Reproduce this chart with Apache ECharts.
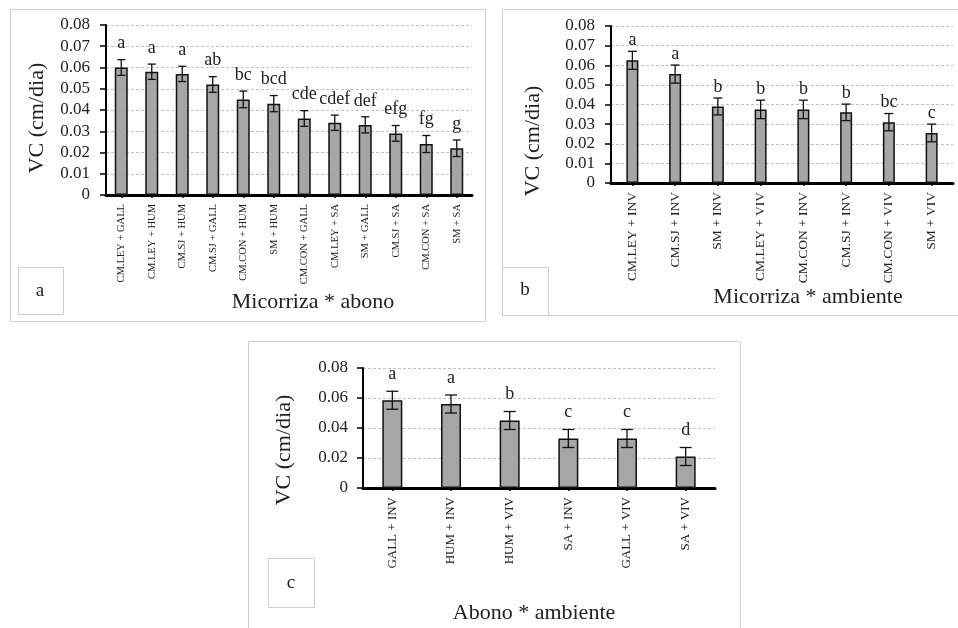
<!DOCTYPE html>
<html>
<head>
<meta charset="utf-8">
<script src="https://cdn.jsdelivr.net/npm/echarts@6/dist/echarts.min.js"></script>
<style>html,body{margin:0;padding:0;background:#fff}#c{width:958px;height:628px}</style>
</head>
<body>
<div id="c"></div>
<script>
// Panel a: Micorriza * abono
const catsA = ['CM.LEY + GALL','CM.LEY + HUM','CM.SJ + HUM','CM.SJ + GALL','CM.CON + HUM','SM + HUM','CM.CON + GALL','CM.LEY + SA','SM + GALL','CM.SJ + SA','CM.CON + SA','SM + SA'];
const valsA = [0.060,0.058,0.057,0.052,0.045,0.043,0.036,0.034,0.033,0.029,0.024,0.022];
const errA  = [0.0037,0.0036,0.0036,0.0037,0.0039,0.0038,0.0037,0.0036,0.0038,0.0037,0.0040,0.0039];
const letA  = ['a','a','a','ab','bc','bcd','cde','cdef','def','efg','fg','g'];
// Panel b: Micorriza * ambiente
const catsB = ['CM.LEY + INV','CM.SJ + INV','SM + INV','CM.LEY + VIV','CM.CON + INV','CM.SJ + INV','CM.CON + VIV','SM + VIV'];
const valsB = [0.0625,0.0555,0.039,0.0375,0.0375,0.036,0.031,0.0255];
const errB  = [0.0046,0.0046,0.0043,0.0047,0.0047,0.0042,0.0044,0.0045];
const letB  = ['a','a','b','b','b','b','bc','c'];
// Panel c: Abono * ambiente
const catsC = ['GALL + INV','HUM + INV','HUM + VIV','SA + INV','GALL + VIV','SA + VIV'];
const valsC = [0.0585,0.056,0.045,0.033,0.033,0.021];
const errC  = [0.006,0.006,0.006,0.006,0.006,0.006];
const letC  = ['a','a','b','c','c','d'];
// y tick labels
const yTicksAB = ['0','0.01','0.02','0.03','0.04','0.05','0.06','0.07','0.08'];
const yTicksC  = ['0','0.02','0.04','0.06','0.08'];

const FF = '"Liberation Serif","Times New Roman",serif';
const chart = echarts.init(document.getElementById('c'), null, {renderer:'canvas'});

function yAxis(gi, interval, ticks, margin) {
  return {
    type:'value', gridIndex:gi, min:0, max:0.08, interval:interval,
    axisLine:{show:true, lineStyle:{color:'#000', width:2}},
    axisTick:{show:true, length:6, lineStyle:{color:'#000', width:1.5}},
    axisLabel:{fontFamily:FF, fontSize:17, color:'#222', margin:margin,
      formatter:(v)=>ticks[Math.round(v/interval)]},
    splitLine:{show:true, lineStyle:{color:'#c4c4c4', type:[3,2], width:1}}
  };
}
function xAxis(gi, cats, fs) {
  return {
    type:'category', gridIndex:gi, data:cats,
    axisLine:{show:true, lineStyle:{color:'#000', width:3}},
    axisTick:{show:true, alignWithLabel:true, length:3, lineStyle:{color:'#000', width:1.5}},
    axisLabel:{rotate:90, interval:0, fontFamily:FF, fontSize:fs, color:'#222', margin:9}
  };
}
function barSeries(gi, vals, bw) {
  return {type:'bar', xAxisIndex:gi, yAxisIndex:gi, data:vals, barWidth:bw,
    itemStyle:{color:'#a6a6a6', borderColor:'#111', borderWidth:1.5}, z:2, silent:true};
}
function errSeries(gi, vals, errs, lets, cap, gap) {
  return {type:'custom', xAxisIndex:gi, yAxisIndex:gi, z:5, silent:true,
    data: vals.map((v,i)=>[i, v, errs[i]]),
    renderItem:(params, api)=>{
      const i = api.value(0), m = api.value(1), e = api.value(2);
      const t = api.coord([i, m+e]), b = api.coord([i, m-e]);
      const st = {stroke:'#111', lineWidth:1.3};
      return {type:'group', children:[
        {type:'line', shape:{x1:t[0], y1:t[1], x2:b[0], y2:b[1]}, style:st},
        {type:'line', shape:{x1:t[0]-cap, y1:t[1], x2:t[0]+cap, y2:t[1]}, style:st},
        {type:'line', shape:{x1:b[0]-cap, y1:b[1], x2:b[0]+cap, y2:b[1]}, style:st},
        {type:'text', x:t[0], y:t[1]-gap, style:{text:lets[params.dataIndex], font:'18px '+FF,
          fill:'#222', textAlign:'center', textVerticalAlign:'bottom'}}
      ]};
    }};
}
function box(x,y,w,h) {
  return {type:'rect', shape:{x:x,y:y,width:w,height:h}, style:{fill:'none', stroke:'#cfcfcf', lineWidth:1}, silent:true, z:0};
}
function txt(x,y,s,fs,rot) {
  return {type:'text', x:x, y:y, rotation:rot||0, silent:true,
    style:{text:s, font:fs+'px '+FF, fill:'#222', textAlign:'center', textVerticalAlign:'middle'}};
}

chart.setOption({
  animation:false,
  backgroundColor:'#fff',
  grid:[
    {left:106, top:25, width:366, height:170},
    {left:611, top:26, width:342, height:157},
    {left:363, top:368, width:352, height:120}
  ],
  xAxis:[xAxis(0,catsA,10.5), xAxis(1,catsB,13.5), xAxis(2,catsC,13)],
  yAxis:[yAxis(0,0.01,yTicksAB,16), yAxis(1,0.01,yTicksAB,16), yAxis(2,0.02,yTicksC,15)],
  series:[
    barSeries(0,valsA,13), errSeries(0,valsA,errA,letA,4,7),
    barSeries(1,valsB,12), errSeries(1,valsB,errB,letB,4.5,2),
    barSeries(2,valsC,20), errSeries(2,valsC,errC,letC,6,8)
  ],
  graphic:[
    box(10.5,9.5,475,312), box(18.5,267.5,45,47),
    box(502.5,9.5,470,306), box(502.5,267.5,46,48),
    box(248.5,341.5,492,300), box(268.5,558.5,46,49),
    txt(37,118,'VC (cm/dia)',22,Math.PI/2),
    txt(533,141,'VC (cm/dia)',22,Math.PI/2),
    txt(284,450,'VC (cm/dia)',22,Math.PI/2),
    txt(313,302,'Micorriza * abono',22),
    txt(808,297,'Micorriza * ambiente',22),
    txt(534,613,'Abono * ambiente',22),
    txt(40,291,'a',19), txt(525,290,'b',19), txt(291,583,'c',19)
  ]
});
</script>
</body>
</html>
